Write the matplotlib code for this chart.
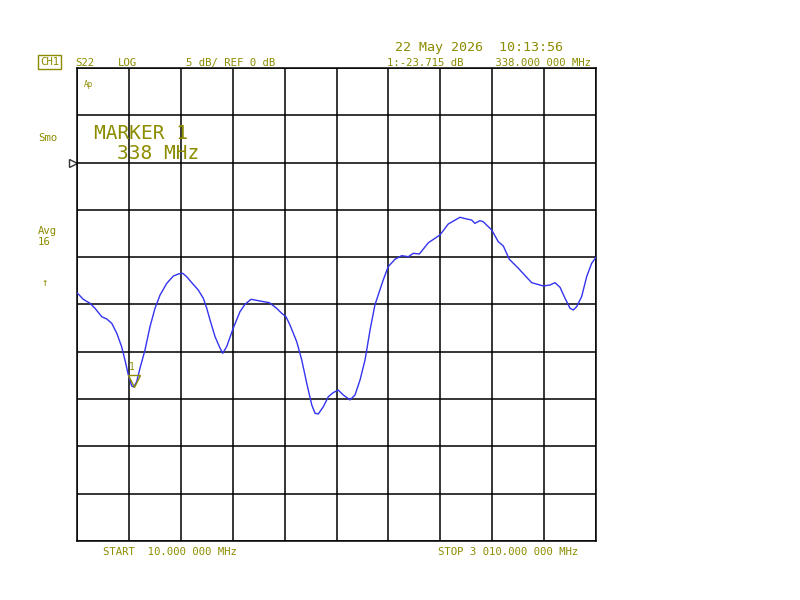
import matplotlib
matplotlib.use("Agg")
import matplotlib.pyplot as plt
import matplotlib.transforms as mtransforms
import numpy as np

# S22 trace (MHz, dB)
freq_mhz = [10, 46, 85, 114, 153, 182, 211, 240, 268, 287, 307, 326, 338, 355,
            374, 403, 432, 461, 490, 529, 567, 596, 621, 644, 673, 711, 740, 760,
            779, 808, 833, 852, 875, 913, 952, 981, 1016, 1068, 1122, 1164, 1193,
            1218, 1241, 1280, 1309, 1338, 1367, 1386, 1405, 1434, 1463, 1491, 1520,
            1549, 1588, 1617, 1646, 1675, 1704, 1732, 1780, 1809, 1848, 1887, 1925,
            1954, 1989, 2041, 2108, 2156, 2224, 2262, 2291, 2310, 2339, 2358, 2407,
            2445, 2474, 2509, 2561, 2638, 2705, 2744, 2773, 2802, 2831, 2860, 2879,
            2898, 2927, 2956, 2985, 3010]
s22_db = [-13.75, -14.45, -14.87, -15.40, -16.29, -16.53, -16.99, -18.04, -19.46,
          -20.86, -22.45, -23.61, -23.715, -23.16, -21.74, -19.81, -17.34, -15.40,
          -14.00, -12.76, -11.99, -11.77, -11.70, -12.06, -12.69, -13.47, -14.34,
          -15.40, -16.64, -18.40, -19.46, -20.16, -19.46, -17.51, -15.76, -14.98,
          -14.45, -14.63, -14.81, -15.40, -15.93, -16.29, -17.16, -18.93, -20.86,
          -23.33, -25.62, -26.50, -26.57, -25.80, -24.74, -24.32, -24.04, -24.56,
          -25.09, -24.56, -22.98, -20.86, -17.69, -15.05, -12.41, -11.00, -10.22,
          -9.84, -9.95, -9.59, -9.66, -8.47, -7.65, -6.49, -5.78, -5.96, -6.07,
          -6.42, -6.14, -6.25, -7.12, -8.36, -8.81, -10.22, -11.17, -12.69, -13.04,
          -12.94, -12.69, -13.18, -14.34, -15.40, -15.58, -15.23, -14.17, -12.06,
          -10.64, -10.01]

start_mhz, stop_mhz = 10, 3010
ref_db, scale_db = 0, 5
marker_mhz, marker_db = 338, -23.715

olive = '#8c8c00'
mono = 'DejaVu Sans Mono'

fig = plt.figure(figsize=(8, 6), dpi=100, facecolor='white')
ax = fig.add_axes([77 / 800, 1 - 541 / 600, 519 / 800, 473 / 600])
ax.set_xlim(start_mhz, stop_mhz)
ax.set_ylim(ref_db - 8 * scale_db, ref_db + 2 * scale_db)
ax.set_xticks(np.linspace(start_mhz, stop_mhz, 11))
ax.set_yticks(np.arange(ref_db - 8 * scale_db, ref_db + 2 * scale_db + 1, scale_db))
ax.grid(True, color='black', linewidth=1.1)
ax.tick_params(length=0, labelbottom=False, labelleft=False)
for s in ax.spines.values():
    s.set_color('black')
    s.set_linewidth(1.1)

ax.plot(freq_mhz, s22_db, color='#3333f0', linewidth=1.0, zorder=3)

# marker 1: tip of the triangle sits on the trace
up = ax.transData + mtransforms.ScaledTranslation(0, 5.5 / 100, fig.dpi_scale_trans)
ax.plot([marker_mhz], [marker_db], marker='v', markersize=8, markerfacecolor='none',
        markeredgecolor=olive, markeredgewidth=1.0, linestyle='none', zorder=4,
        transform=up)
ax.annotate('1', (marker_mhz, marker_db), xytext=(-1.5, 11), textcoords='offset points',
            color=olive, fontsize=7, family=mono, ha='center', va='bottom')

# reference level pointer
left = ax.transData + mtransforms.ScaledTranslation(-4 / 100, 0, fig.dpi_scale_trans)
ax.plot([start_mhz], [ref_db], marker='>', markersize=6, markerfacecolor='white',
        markeredgecolor='#333333', markeredgewidth=1.0, clip_on=False,
        linestyle='none', transform=left)


def label(x, y, s, size=7.7, **kw):
    fig.text(x / 800, 1 - y / 600, s, color=olive, fontsize=size, family=mono,
             va='baseline', **kw)


label(40, 65, 'CH1', bbox=dict(boxstyle='square,pad=0.15', fc='none', ec=olive, lw=1))
label(75, 66, 'S22')
label(118, 66, 'LOG')
label(186, 66, '5 dB/ REF 0 dB')
label(395, 51, '22 May 2026  10:13:56', size=9.6)
label(387, 66, '1:-23.715 dB     338.000 000 MHz')
label(84, 87, 'Ap', size=5.5)
label(38, 141, 'Smo')
label(38, 234, 'Avg')
label(38, 245, '16')
label(42, 286, '\u2191')
label(94, 139, 'MARKER 1', size=14)
label(117, 159, '338 MHz', size=14)
label(103, 555, 'START  10.000 000 MHz')
label(438, 555, 'STOP 3 010.000 000 MHz')

fig.savefig('out.png', dpi=100, facecolor='white')
